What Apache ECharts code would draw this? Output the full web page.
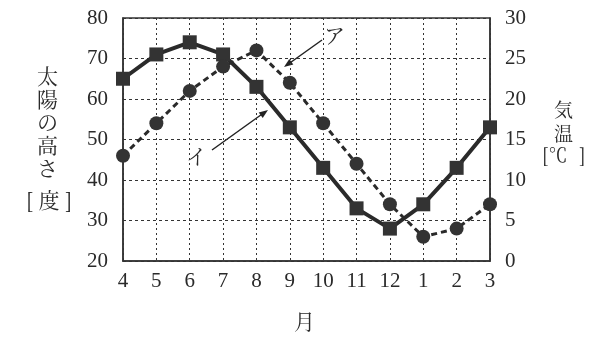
<!DOCTYPE html>
<html>
<head>
<meta charset="utf-8">
<script src="https://cdn.jsdelivr.net/npm/echarts@6/dist/echarts.min.js"></script>
<style>
  html, body { margin: 0; padding: 0; background: #fff; }
  #main { width: 595px; height: 342px; }
</style>
</head>
<body>
<div id="main"></div>
<script>
  // 月
  const months = ['4', '5', '6', '7', '8', '9', '10', '11', '12', '1', '2', '3'];
  // イ: 太陽の高さ [度]
  const sunAltitude = [65, 71, 74, 71, 63, 53, 43, 33, 28, 34, 43, 53];
  // ア: 気温 [℃]
  const temperature = [13, 17, 21, 24, 26, 22, 17, 12, 7, 3, 4, 7];

  const FONT = "'Liberation Serif', 'Noto Serif CJK JP', 'Noto Sans CJK JP', serif";
  const JP = "'Noto Serif CJK JP', 'Noto Sans CJK JP', serif";
  const INK = '#2a2a2a';

  const myChart = echarts.init(document.getElementById('main'));

  const option = {
    backgroundColor: '#fff',
    animation: false,
    grid: {
      left: 123, right: 105, top: 18, bottom: 81,
      show: true,
      borderColor: '#333',
      borderWidth: 1.5
    },
    xAxis: {
      type: 'category',
      data: months,
      boundaryGap: false,
      axisLine: { show: true, lineStyle: { color: '#333', width: 1.5 } },
      axisTick: { show: false },
      axisLabel: { color: INK, fontFamily: FONT, fontSize: 21, margin: 10 },
      splitLine: { show: true, lineStyle: { color: '#333', type: [2, 3], width: 1 } }
    },
    yAxis: [
      {
        type: 'value',
        min: 20, max: 80, interval: 10,
        axisLine: { show: true, lineStyle: { color: '#333', width: 1.5 } },
        axisTick: { show: false },
        axisLabel: { color: INK, fontFamily: FONT, fontSize: 21, margin: 15 },
        splitLine: { show: true, lineStyle: { color: '#333', type: [3, 3], width: 1 } }
      },
      {
        type: 'value',
        min: 0, max: 30, interval: 5,
        position: 'right',
        axisLine: { show: true, lineStyle: { color: '#333', width: 1.5 } },
        axisTick: { show: false },
        axisLabel: { color: INK, fontFamily: FONT, fontSize: 21, margin: 15 },
        splitLine: { show: false }
      }
    ],
    series: [
      {
        name: '太陽の高さ',
        type: 'line',
        data: sunAltitude,
        yAxisIndex: 0,
        symbol: 'rect',
        symbolSize: 14,
        itemStyle: { color: '#333' },
        lineStyle: { color: '#2a2a2a', width: 4 },
        z: 3
      },
      {
        name: '気温',
        type: 'line',
        data: temperature,
        yAxisIndex: 1,
        symbol: 'circle',
        symbolSize: 14,
        itemStyle: { color: '#333' },
        lineStyle: { color: '#2a2a2a', width: 3, type: [6, 4] },
        z: 4
      }
    ],
    graphic: [
      // 左の軸名
      {
        type: 'text', left: 37, top: 65,
        style: { text: '太\n陽\nの\n高\nさ', font: '21px ' + JP, fill: INK, lineHeight: 23 }
      },
      {
        type: 'text', left: 26, top: 190,
        style: { text: '[ 度 ]', font: '21px ' + JP, fill: INK }
      },
      // 右の軸名
      {
        type: 'text', left: 554, top: 98,
        style: { text: '気\n温', font: '19px ' + JP, fill: INK, lineHeight: 24 }
      },
      {
        type: 'text', left: 542, top: 145,
        style: { text: '[℃', font: '19px ' + JP, fill: INK }
      },
      {
        type: 'text', left: 579, top: 145,
        style: { text: ']', font: '19px ' + JP, fill: INK }
      },
      // x軸名
      {
        type: 'text', left: 294, top: 311,
        style: { text: '月', font: '21px ' + JP, fill: INK }
      },
      // ア
      {
        type: 'text', left: 324, top: 25,
        style: { text: 'ア', font: '21px ' + JP, fill: INK }
      },
      {
        type: 'line',
        shape: { x1: 322, y1: 40, x2: 287, y2: 65 },
        style: { stroke: '#222', lineWidth: 1.5 }
      },
      {
        type: 'polygon',
        shape: { points: [[284, 67], [293.3, 64.6], [289.3, 59.0]] },
        style: { fill: '#222' }
      },
      // イ
      {
        type: 'text', left: 186, top: 146,
        style: { text: 'イ', font: '21px ' + JP, fill: INK }
      },
      {
        type: 'line',
        shape: { x1: 212, y1: 150, x2: 265, y2: 112 },
        style: { stroke: '#222', lineWidth: 1.5 }
      },
      {
        type: 'polygon',
        shape: { points: [[268, 110], [262.7, 118.1], [258.7, 112.4]] },
        style: { fill: '#222' }
      }
    ]
  };

  myChart.setOption(option);
</script>
</body>
</html>
